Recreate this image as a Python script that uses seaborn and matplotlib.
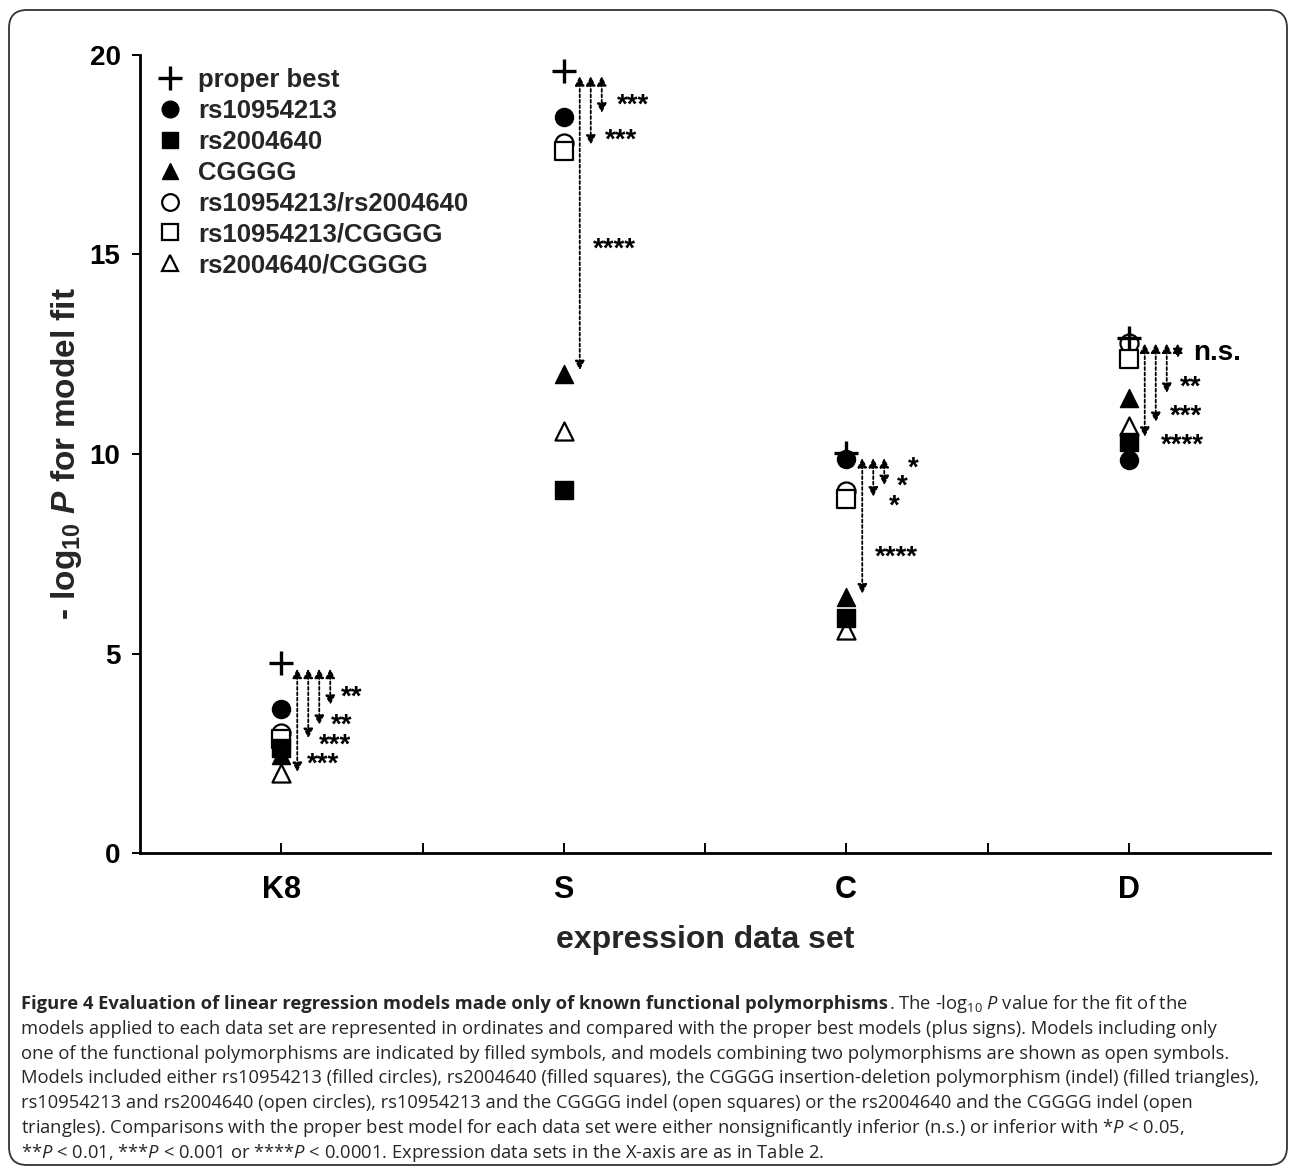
import numpy as np
import pandas as pd
import matplotlib
matplotlib.use("Agg")
import matplotlib.pyplot as plt
import seaborn as sns
from matplotlib.lines import Line2D
from matplotlib.patches import FancyBboxPatch
from matplotlib.transforms import IdentityTransform

# ---------------- data ----------------
datasets = ["K8", "S", "C", "D"]
proper_best = [4.75, 19.6, 10.03, 12.9]
rs10954213 = [3.61, 18.45, 9.87, 9.85]
rs2004640 = [2.63, 9.1, 5.9, 10.3]
cgggg = [2.45, 12.0, 6.42, 11.4]
rs10954213_rs2004640 = [3.0, 17.8, 9.07, 12.78]
rs10954213_cgggg = [2.85, 17.6, 8.87, 12.38]
rs2004640_cgggg = [2.0, 10.58, 5.6, 10.7]

# comparison arrows (end values, left to right) for each data set
arrow_ends_K8 = [2.03, 2.88, 3.21, 3.71]
arrow_ends_S = [12.1, 17.75, 18.55]
arrow_ends_C = [6.5, 8.93, 9.22]
arrow_ends_D = [10.43, 10.8, 11.53, 12.4]

# significance labels, their heights, and left-edge offsets (px)
labels_K8 = ["***", "***", "**", "**"]
label_y_K8 = [2.43, 2.91, 3.41, 4.11]
labels_S = ["****", "***", "***"]
label_y_S = [15.36, 18.07, 18.95]
labels_C = ["****", "*", "*", "*"]
label_y_C = [7.64, 8.90, 9.40, 9.85]
labels_D = ["****", "***", "**", "n.s."]
label_y_D = [10.43, 11.15, 11.90, 12.53]

label_dx_K8 = [26, 38, 50, 60]
label_dx_S = [29, 41, 53]
label_dx_C = [29, 43, 51, 62]
label_dx_D = [32, 41, 51, 64]

yticks = [0, 5, 10, 15, 20]

legend_names = ["proper best", "rs10954213", "rs2004640", "CGGGG",
                "rs10954213/rs2004640", "rs10954213/CGGGG", "rs2004640/CGGGG"]

caption_bold = "Figure 4 Evaluation of linear regression models made only of known functional polymorphisms"
caption_first_rest = ". The -log$_{10}$ $P$ value for the fit of the"
caption_lines = [
    "models applied to each data set are represented in ordinates and compared with the proper best models (plus signs). Models including only",
    "one of the functional polymorphisms are indicated by filled symbols, and models combining two polymorphisms are shown as open symbols.",
    "Models included either rs10954213 (filled circles), rs2004640 (filled squares), the CGGGG insertion-deletion polymorphism (indel) (filled triangles),",
    "rs10954213 and rs2004640 (open circles), rs10954213 and the CGGGG indel (open squares) or the rs2004640 and the CGGGG indel (open",
    "triangles). Comparisons with the proper best model for each data set were either nonsignificantly inferior (n.s.) or inferior with *$P$ < 0.05,",
    "**$P$ < 0.01, ***$P$ < 0.001 or ****$P$ < 0.0001. Expression data sets in the X-axis are as in Table 2.",
]

# ---------------- style ----------------
sns.set_theme(style="white")
plt.rcParams["font.family"] = ["Liberation Sans", "DejaVu Sans"]
plt.rcParams["mathtext.fontset"] = "custom"
plt.rcParams["mathtext.rm"] = "Open Sans"
plt.rcParams["mathtext.it"] = "Open Sans:italic"
plt.rcParams["mathtext.bf"] = "Liberation Sans:bold"
plt.rcParams["mathtext.bfit"] = "Liberation Sans:bold:italic"

W, H = 1293, 1168
fig = plt.figure(figsize=(W / 100, H / 100), dpi=100)
fig.patch.set_facecolor("white")
ax = fig.add_axes([140 / W, 1 - 853 / H, 1130 / W, 798 / H])
ax.set_facecolor("white")

df = pd.DataFrame({
    "dataset": datasets,
    "proper best": proper_best,
    "rs10954213": rs10954213,
    "rs2004640": rs2004640,
    "CGGGG": cgggg,
    "rs10954213/rs2004640": rs10954213_rs2004640,
    "rs10954213/CGGGG": rs10954213_cgggg,
    "rs2004640/CGGGG": rs2004640_cgggg,
})
long = df.melt(id_vars="dataset", var_name="model", value_name="neglogp")
long["x"] = long["dataset"].map({d: i for i, d in enumerate(datasets)})

styles = {
    "proper best": dict(marker="+", ms=17, fc="black", ec="black", lw=2.4),
    "rs10954213": dict(marker="o", ms=13, fc="black", ec="black", lw=1.0),
    "rs2004640": dict(marker="s", ms=13, fc="black", ec="black", lw=1.0),
    "CGGGG": dict(marker="^", ms=13, fc="black", ec="black", lw=1.0),
    "rs10954213/rs2004640": dict(marker="o", ms=13, fc="white", ec="black", lw=1.6),
    "rs10954213/CGGGG": dict(marker="s", ms=13, fc="white", ec="black", lw=1.6),
    "rs2004640/CGGGG": dict(marker="^", ms=13, fc="white", ec="black", lw=1.6),
}
draw_order = ["rs10954213/rs2004640", "rs10954213/CGGGG", "rs2004640/CGGGG",
              "rs10954213", "rs2004640", "CGGGG", "proper best"]
for z, m in enumerate(draw_order):
    st = styles[m]
    sub = long[long["model"] == m]
    if st["marker"] == "+":
        sns.scatterplot(data=sub, x="x", y="neglogp", marker="+", s=st["ms"] ** 2,
                        color="black", linewidth=st["lw"], ax=ax, zorder=5 + z,
                        legend=False)
    else:
        sns.scatterplot(data=sub, x="x", y="neglogp", marker=st["marker"],
                        s=st["ms"] ** 2, facecolor=st["fc"], edgecolor=st["ec"],
                        linewidth=st["lw"], ax=ax, zorder=5 + z, legend=False)

# ---------------- comparison arrows and labels ----------------
px_per_unit = 1130 / 4.0
arrow_sets = [arrow_ends_K8, arrow_ends_S, arrow_ends_C, arrow_ends_D]
label_sets = [labels_K8, labels_S, labels_C, labels_D]
label_y_sets = [label_y_K8, label_y_S, label_y_C, label_y_D]
label_dx_sets = [label_dx_K8, label_dx_S, label_dx_C, label_dx_D]
for i in range(len(datasets)):
    top = proper_best[i] - 0.13
    for j, end in enumerate(arrow_sets[i]):
        xx = i + (16 + 11 * j) / px_per_unit
        ax.annotate("", xy=(xx, end), xytext=(xx, top),
                    arrowprops=dict(arrowstyle="<|-|>,head_length=0.55,head_width=0.28",
                                    linestyle=(0, (1.6, 1.4)), lw=1.3, color="black",
                                    shrinkA=0, shrinkB=0, mutation_scale=10),
                    zorder=3)
    for lab, ly, dx in zip(label_sets[i], label_y_sets[i], label_dx_sets[i]):
        dy = -16 if lab.startswith("*") else -7
        ax.annotate(lab, xy=(i, ly), xytext=(dx, dy), textcoords="offset pixels",
                    ha="left", va="baseline", fontsize=20, fontweight="bold",
                    color="black", zorder=4)

# ---------------- axes ----------------
ax.set_xlim(-0.5, 3.5)
ax.set_ylim(0, 20)
ax.set_xticks(range(len(datasets)))
ax.set_xticklabels(datasets, fontsize=22, fontweight="bold")
ax.set_xticks([0.5, 1.5, 2.5], minor=True)
ax.set_yticks(yticks)
ax.set_yticklabels([str(t) for t in yticks], fontsize=20, fontweight="bold")
ax.tick_params(axis="x", which="both", direction="in", length=7, width=1.4,
               pad=16, colors="black", bottom=True)
ax.tick_params(axis="y", which="major", direction="out", length=6, width=1.4,
               pad=8, colors="black", left=True)
for s in ["top", "right"]:
    ax.spines[s].set_visible(False)
for s in ["left", "bottom"]:
    ax.spines[s].set_linewidth(2.0)
    ax.spines[s].set_color("black")
ax.set_xlabel("expression data set", fontsize=23, fontweight="bold", labelpad=14)
ax.set_ylabel(r"- log$_{\mathbf{10}}$ $\mathbfit{P}$ for model fit", fontsize=24,
              fontweight="bold")
ax.yaxis.set_label_coords(-0.05, 0.5)
ax.grid(False)

# ---------------- legend ----------------
handles = []
for m in legend_names:
    st = styles[m]
    handles.append(Line2D([], [], linestyle="none", marker=st["marker"],
                          markersize=st["ms"] - (0 if m == "proper best" else 1),
                          markerfacecolor=st["fc"], markeredgecolor=st["ec"],
                          markeredgewidth=st["lw"]))
leg = ax.legend(handles, legend_names, loc="upper left",
                bbox_to_anchor=(0.015, 0.984), frameon=False, borderpad=0,
                borderaxespad=0, handlelength=1.0, handletextpad=0.6,
                labelspacing=0.27, prop=dict(family="Liberation Sans",
                                             weight="bold", size=18.5))

# ---------------- frame and caption ----------------
frame = FancyBboxPatch((9, 3), 1278, 1155, boxstyle="round,pad=0,rounding_size=18",
                       transform=IdentityTransform(), facecolor="none",
                       edgecolor="#333333", linewidth=1.3, zorder=0)
fig.patches.append(frame)

renderer = fig.canvas.get_renderer()
cap_x = 21
base0 = 1009
step = 24.8
# size the caption so that its second line spans the width measured on the reference
probe = fig.text(cap_x / W, 0.5, caption_lines[0], fontsize=12, family="Open Sans")
wpx = probe.get_window_extent(renderer).width
probe.remove()
cap_size = 12 * 1190 / wpx

yb = 1 - base0 / H
tb = fig.text(cap_x / W, yb, caption_bold, fontsize=cap_size,
              family="Open Sans", weight="bold", va="baseline", ha="left")
x_cur = cap_x + tb.get_window_extent(renderer).width + 1
fig.text(x_cur / W, yb, caption_first_rest, fontsize=cap_size, family="Open Sans",
         va="baseline", ha="left")
for k, line in enumerate(caption_lines, start=1):
    fig.text(cap_x / W, 1 - (base0 + step * k) / H, line, fontsize=cap_size,
             family="Open Sans", va="baseline", ha="left")

fig.savefig("out.png", dpi=100, facecolor="white")
